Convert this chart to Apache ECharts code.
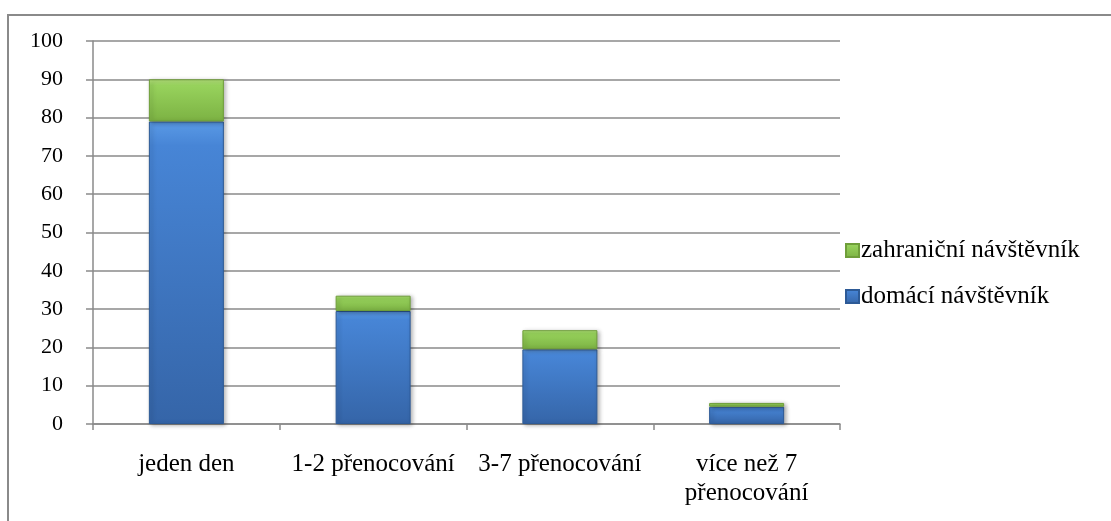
<!DOCTYPE html>
<html>
<head>
<meta charset="utf-8">
<script src="https://cdn.jsdelivr.net/npm/echarts@6/dist/echarts.min.js"></script>
<style>
  html, body { margin: 0; padding: 0; background: #fff; }
  #chart { width: 1111px; height: 521px; }
</style>
</head>
<body>
<div id="chart"></div>
<script>
// Length of stay categories
const categories = ['jeden den', '1-2 přenocování', '3-7 přenocování', 'více než 7\npřenocování'];
// Domestic visitors (bottom stack)
const domaci = [79, 29.5, 19.5, 4.5];
// Foreign visitors (top stack)
const zahranicni = [11, 4, 5, 1];
const yTicks = { min: 0, max: 100, interval: 10 };

const FONT = '"Liberation Serif", "Times New Roman", serif';

const blueFill = new echarts.graphic.LinearGradient(0, 0, 0, 1, [
  { offset: 0, color: '#5a9ae6' },
  { offset: 0.08, color: '#4785d6' },
  { offset: 1, color: '#3565a8' }
]);
const greenFill = new echarts.graphic.LinearGradient(0, 0, 0, 1, [
  { offset: 0, color: '#b2e07a' },
  { offset: 0.15, color: '#97d25c' },
  { offset: 1, color: '#7cb243' }
]);

const chart = echarts.init(document.getElementById('chart'), null, { renderer: 'canvas' });
chart.setOption({
  animation: false,
  backgroundColor: '#ffffff',
  graphic: [{
    type: 'rect',
    shape: { x: 8, y: 15, width: 1200, height: 600 },
    style: { fill: 'none', stroke: '#8a8a8a', lineWidth: 2 },
    silent: true, z: 0
  }],
  grid: { left: 93, right: 271, top: 41, bottom: 97, containLabel: false },
  legend: {
    orient: 'vertical',
    left: 840,
    top: 233,
    itemWidth: 13,
    itemHeight: 13,
    itemGap: 21,
    icon: 'rect',
    data: ['zahraniční návštěvník', 'domácí návštěvník'],
    textStyle: { fontFamily: FONT, fontSize: 25, color: '#000', padding: [0, 0, 0, -3] }
  },
  xAxis: {
    type: 'category',
    data: categories,
    axisLine: { lineStyle: { color: '#8a8a8a', width: 1.5 } },
    axisTick: { show: true, length: 6, lineStyle: { color: '#8a8a8a', width: 1.5 } },
    axisLabel: { fontFamily: FONT, fontSize: 25, color: '#000', margin: 26, lineHeight: 29, interval: 0 }
  },
  yAxis: {
    type: 'value',
    min: yTicks.min, max: yTicks.max, interval: yTicks.interval,
    axisLine: { show: true, lineStyle: { color: '#8a8a8a', width: 1.5 } },
    axisTick: { show: true, length: 7, lineStyle: { color: '#8a8a8a', width: 1.5 } },
    splitLine: { lineStyle: { color: '#8a8a8a', width: 1.5 } },
    axisLabel: { fontFamily: FONT, fontSize: 22, color: '#000', margin: 30 }
  },
  series: [
    {
      name: 'domácí návštěvník',
      type: 'bar',
      stack: 'total',
      barWidth: 75,
      data: domaci,
      itemStyle: {
        color: blueFill,
        borderColor: '#2d5a96',
        borderWidth: 1,
        shadowColor: 'rgba(0,0,0,0.3)',
        shadowBlur: 4,
        shadowOffsetX: 2,
        shadowOffsetY: 1
      }
    },
    {
      name: 'zahraniční návštěvník',
      type: 'bar',
      stack: 'total',
      barWidth: 75,
      data: zahranicni,
      itemStyle: {
        color: greenFill,
        borderColor: '#6f9e3a',
        borderWidth: 1,
        shadowColor: 'rgba(0,0,0,0.3)',
        shadowBlur: 4,
        shadowOffsetX: 2,
        shadowOffsetY: 1
      }
    }
  ]
});
</script>
</body>
</html>
